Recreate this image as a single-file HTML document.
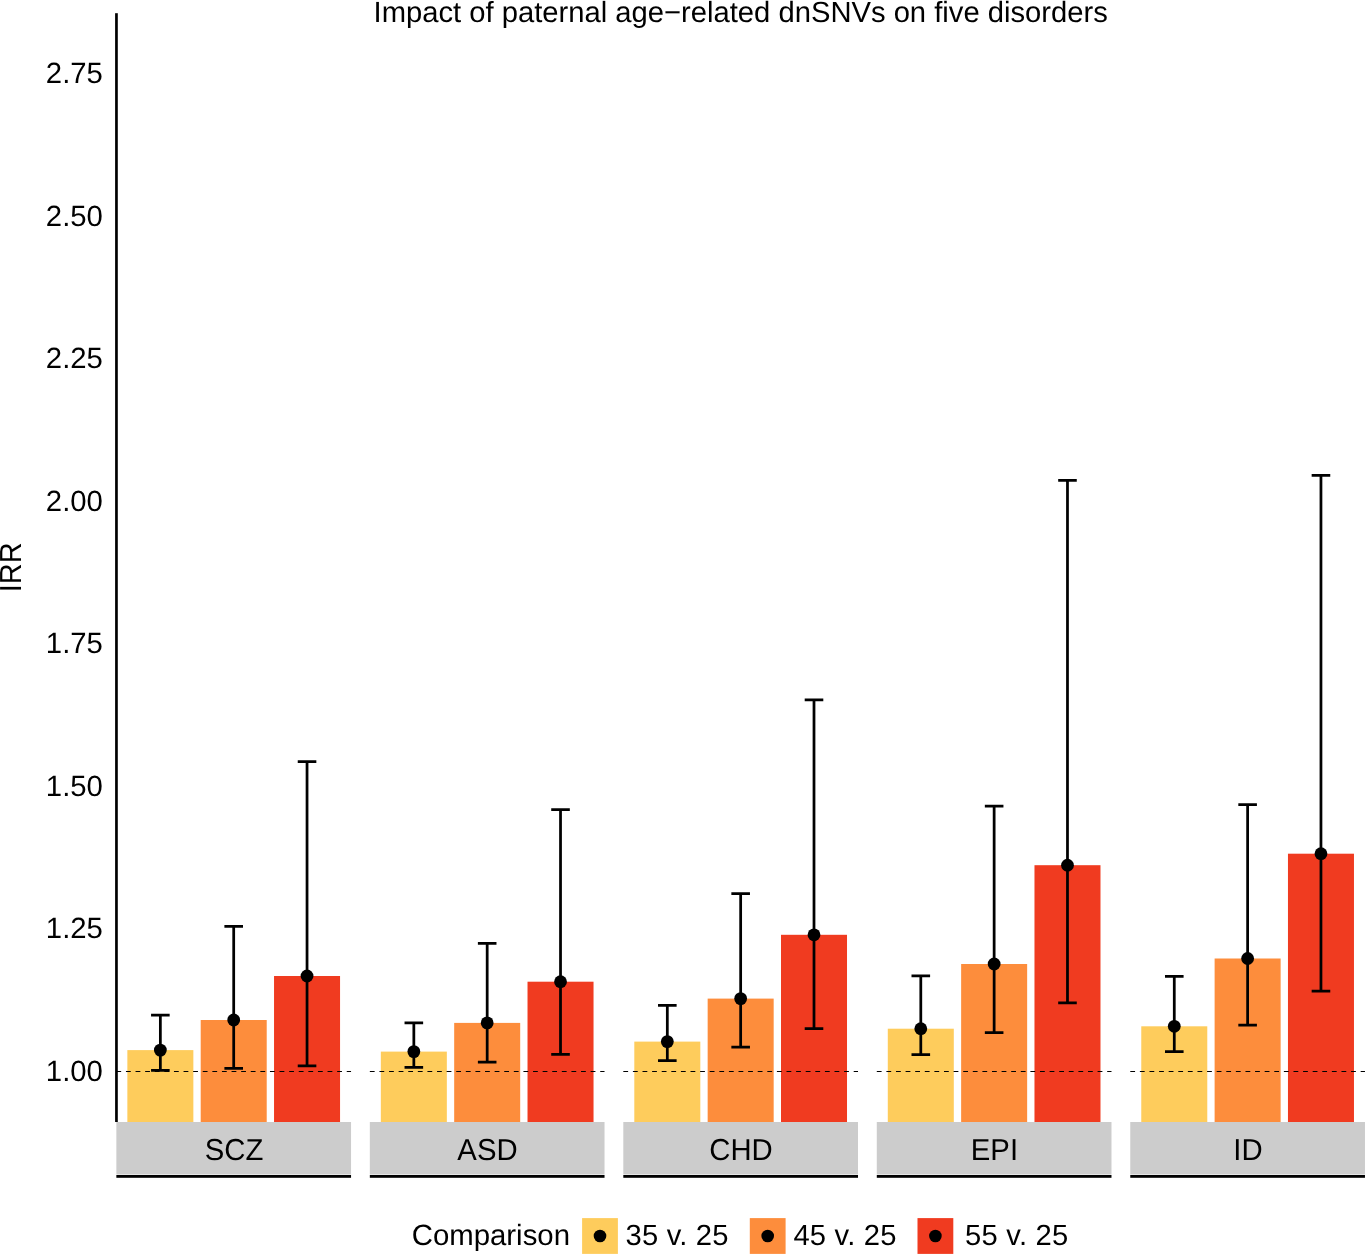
<!DOCTYPE html><html><head><meta charset="utf-8"><style>html,body{margin:0;padding:0;background:#fff;}svg{display:block;will-change:transform;}text{text-rendering:geometricPrecision;font-family:"Liberation Sans",sans-serif;font-size:29.3px;fill:#000;}</style></head><body>
<svg width="1365" height="1254" viewBox="0 0 1365 1254">
<rect x="0" y="0" width="1365" height="1254" fill="#fff"/>
<text x="373.61" y="22.00" text-anchor="start" style="font-size:29.19px;">Impact of paternal age−related dnSNVs on five disorders</text>
<text transform="translate(21 567.4) rotate(-90) scale(1 1.050)" text-anchor="middle" style="font-size:29.0px">IRR</text>
<text x="102.90" y="1081.00" text-anchor="end">1.00</text>
<text x="102.90" y="938.49" text-anchor="end">1.25</text>
<text x="102.90" y="795.99" text-anchor="end">1.50</text>
<text x="102.90" y="653.48" text-anchor="end">1.75</text>
<text x="102.90" y="510.97" text-anchor="end">2.00</text>
<text x="102.90" y="368.46" text-anchor="end">2.25</text>
<text x="102.90" y="225.96" text-anchor="end">2.50</text>
<text x="102.90" y="83.45" text-anchor="end">2.75</text>
<rect x="127.35" y="1050.10" width="66.01" height="71.90" fill="#FECC5C"/>
<rect x="200.70" y="1020.00" width="66.01" height="102.00" fill="#FD8D3C"/>
<rect x="274.04" y="976.00" width="66.01" height="146.00" fill="#F03B20"/>
<line x1="116.35" y1="1071.5" x2="351.05" y2="1071.5" stroke="#000" stroke-width="1.2" stroke-dasharray="4.8 4.8"/>
<path d="M151.06 1015.00H169.66M160.36 1015.00V1070.40M151.06 1070.40H169.66" stroke="#000" stroke-width="2.75" fill="none"/>
<circle cx="160.36" cy="1050.10" r="6.40" fill="#000"/>
<path d="M224.40 926.30H243.00M233.70 926.30V1068.40M224.40 1068.40H243.00" stroke="#000" stroke-width="2.75" fill="none"/>
<circle cx="233.70" cy="1020.00" r="6.40" fill="#000"/>
<path d="M297.74 761.50H316.34M307.04 761.50V1065.80M297.74 1065.80H316.34" stroke="#000" stroke-width="2.75" fill="none"/>
<circle cx="307.04" cy="976.00" r="6.40" fill="#000"/>
<rect x="116.35" y="1122" width="234.70" height="52" fill="#CCCCCC"/>
<text transform="translate(234.00 1160.10) scale(1 1.035)" text-anchor="middle">SCZ</text>
<rect x="116.35" y="1174.9" width="234.70" height="2.9" fill="#000"/>
<rect x="380.83" y="1051.60" width="66.01" height="70.40" fill="#FECC5C"/>
<rect x="454.18" y="1022.90" width="66.01" height="99.10" fill="#FD8D3C"/>
<rect x="527.52" y="981.70" width="66.01" height="140.30" fill="#F03B20"/>
<line x1="369.83" y1="1071.5" x2="604.53" y2="1071.5" stroke="#000" stroke-width="1.2" stroke-dasharray="4.8 4.8"/>
<path d="M404.54 1022.90H423.14M413.84 1022.90V1067.30M404.54 1067.30H423.14" stroke="#000" stroke-width="2.75" fill="none"/>
<circle cx="413.84" cy="1051.60" r="6.40" fill="#000"/>
<path d="M477.88 943.40H496.48M487.18 943.40V1062.20M477.88 1062.20H496.48" stroke="#000" stroke-width="2.75" fill="none"/>
<circle cx="487.18" cy="1022.90" r="6.40" fill="#000"/>
<path d="M551.22 809.70H569.82M560.52 809.70V1054.40M551.22 1054.40H569.82" stroke="#000" stroke-width="2.75" fill="none"/>
<circle cx="560.52" cy="981.70" r="6.40" fill="#000"/>
<rect x="369.83" y="1122" width="234.70" height="52" fill="#CCCCCC"/>
<text transform="translate(487.48 1160.10) scale(1 1.035)" text-anchor="middle">ASD</text>
<rect x="369.83" y="1174.9" width="234.70" height="2.9" fill="#000"/>
<rect x="634.31" y="1041.60" width="66.01" height="80.40" fill="#FECC5C"/>
<rect x="707.66" y="998.60" width="66.01" height="123.40" fill="#FD8D3C"/>
<rect x="781.00" y="934.80" width="66.01" height="187.20" fill="#F03B20"/>
<line x1="623.31" y1="1071.5" x2="858.01" y2="1071.5" stroke="#000" stroke-width="1.2" stroke-dasharray="4.8 4.8"/>
<path d="M658.02 1005.30H676.62M667.32 1005.30V1060.70M658.02 1060.70H676.62" stroke="#000" stroke-width="2.75" fill="none"/>
<circle cx="667.32" cy="1041.60" r="6.40" fill="#000"/>
<path d="M731.36 893.60H749.96M740.66 893.60V1047.00M731.36 1047.00H749.96" stroke="#000" stroke-width="2.75" fill="none"/>
<circle cx="740.66" cy="998.60" r="6.40" fill="#000"/>
<path d="M804.70 699.80H823.30M814.00 699.80V1028.50M804.70 1028.50H823.30" stroke="#000" stroke-width="2.75" fill="none"/>
<circle cx="814.00" cy="934.80" r="6.40" fill="#000"/>
<rect x="623.31" y="1122" width="234.70" height="52" fill="#CCCCCC"/>
<text transform="translate(740.96 1160.10) scale(1 1.035)" text-anchor="middle">CHD</text>
<rect x="623.31" y="1174.9" width="234.70" height="2.9" fill="#000"/>
<rect x="887.79" y="1028.70" width="66.01" height="93.30" fill="#FECC5C"/>
<rect x="961.14" y="964.00" width="66.01" height="158.00" fill="#FD8D3C"/>
<rect x="1034.48" y="865.20" width="66.01" height="256.80" fill="#F03B20"/>
<line x1="876.79" y1="1071.5" x2="1111.49" y2="1071.5" stroke="#000" stroke-width="1.2" stroke-dasharray="4.8 4.8"/>
<path d="M911.50 975.80H930.10M920.80 975.80V1054.50M911.50 1054.50H930.10" stroke="#000" stroke-width="2.75" fill="none"/>
<circle cx="920.80" cy="1028.70" r="6.40" fill="#000"/>
<path d="M984.84 806.20H1003.44M994.14 806.20V1032.70M984.84 1032.70H1003.44" stroke="#000" stroke-width="2.75" fill="none"/>
<circle cx="994.14" cy="964.00" r="6.40" fill="#000"/>
<path d="M1058.18 480.30H1076.78M1067.48 480.30V1002.90M1058.18 1002.90H1076.78" stroke="#000" stroke-width="2.75" fill="none"/>
<circle cx="1067.48" cy="865.20" r="6.40" fill="#000"/>
<rect x="876.79" y="1122" width="234.70" height="52" fill="#CCCCCC"/>
<text transform="translate(994.44 1160.10) scale(1 1.035)" text-anchor="middle">EPI</text>
<rect x="876.79" y="1174.9" width="234.70" height="2.9" fill="#000"/>
<rect x="1141.27" y="1026.30" width="66.01" height="95.70" fill="#FECC5C"/>
<rect x="1214.62" y="958.50" width="66.01" height="163.50" fill="#FD8D3C"/>
<rect x="1287.96" y="853.70" width="66.01" height="268.30" fill="#F03B20"/>
<line x1="1130.27" y1="1071.5" x2="1364.97" y2="1071.5" stroke="#000" stroke-width="1.2" stroke-dasharray="4.8 4.8"/>
<path d="M1164.98 976.30H1183.58M1174.28 976.30V1051.50M1164.98 1051.50H1183.58" stroke="#000" stroke-width="2.75" fill="none"/>
<circle cx="1174.28" cy="1026.30" r="6.40" fill="#000"/>
<path d="M1238.32 804.60H1256.92M1247.62 804.60V1025.20M1238.32 1025.20H1256.92" stroke="#000" stroke-width="2.75" fill="none"/>
<circle cx="1247.62" cy="958.50" r="6.40" fill="#000"/>
<path d="M1311.66 475.30H1330.26M1320.96 475.30V991.10M1311.66 991.10H1330.26" stroke="#000" stroke-width="2.75" fill="none"/>
<circle cx="1320.96" cy="853.70" r="6.40" fill="#000"/>
<rect x="1130.27" y="1122" width="234.70" height="52" fill="#CCCCCC"/>
<text transform="translate(1247.92 1160.10) scale(1 1.035)" text-anchor="middle">ID</text>
<rect x="1130.27" y="1174.9" width="234.70" height="2.9" fill="#000"/>
<rect x="115.1" y="13.2" width="2.7" height="1108.80" fill="#000"/>
<text x="411.71" y="1244.90" text-anchor="start" style="font-size:29.36px;">Comparison</text>
<rect x="582.10" y="1218.1" width="35.8" height="35.8" fill="#FECC5C"/>
<circle cx="600.00" cy="1236" r="6.3" fill="#000"/>
<text x="625.59" y="1245.00" text-anchor="start" style="font-size:29.20px;letter-spacing:0.163px;">35 v. 25</text>
<rect x="749.80" y="1218.1" width="35.8" height="35.8" fill="#FD8D3C"/>
<circle cx="767.70" cy="1236" r="6.3" fill="#000"/>
<text x="793.43" y="1245.00" text-anchor="start" style="font-size:29.20px;letter-spacing:0.200px;">45 v. 25</text>
<rect x="917.50" y="1218.1" width="35.8" height="35.8" fill="#F03B20"/>
<circle cx="935.40" cy="1236" r="6.3" fill="#000"/>
<text x="965.03" y="1245.00" text-anchor="start" style="font-size:29.20px;letter-spacing:0.228px;">55 v. 25</text>
</svg></body></html>
